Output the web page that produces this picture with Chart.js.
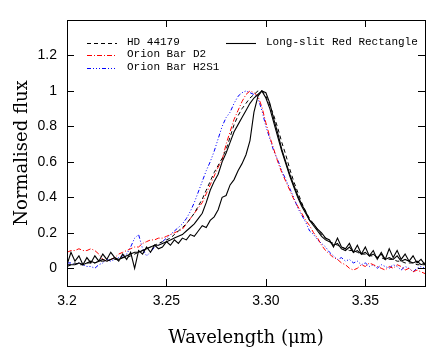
<!DOCTYPE html>
<html>
<head>
<meta charset="utf-8">
<script src="https://cdn.jsdelivr.net/npm/chart.js@4.4.0/dist/chart.umd.min.js"></script>
<style>
  html, body { margin: 0; padding: 0; background: #fff; }
  #wrap { width: 447px; height: 358px; position: relative; }
</style>
</head>
<body>
<div id="wrap"><canvas id="chart"></canvas></div>
<script>
// Longueurs d'onde (µm)
const wavelength = [
  3.200, 3.202, 3.204, 3.206, 3.208, 3.210, 3.212, 3.214, 3.216, 3.218,
  3.220, 3.222, 3.224, 3.226, 3.228, 3.230, 3.232, 3.234, 3.236, 3.238,
  3.240, 3.242, 3.244, 3.246, 3.248, 3.250, 3.252, 3.254, 3.256, 3.258,
  3.260, 3.262, 3.264, 3.266, 3.268, 3.270, 3.272, 3.274, 3.276, 3.278,
  3.280, 3.282, 3.284, 3.286, 3.288, 3.290, 3.292, 3.294, 3.296, 3.298,
  3.300, 3.302, 3.304, 3.306, 3.308, 3.310, 3.312, 3.314, 3.316, 3.318,
  3.320, 3.322, 3.324, 3.326, 3.328, 3.330, 3.332, 3.334, 3.336, 3.338,
  3.340, 3.342, 3.344, 3.346, 3.348, 3.350, 3.352, 3.354, 3.356, 3.358,
  3.360, 3.362, 3.364, 3.366, 3.368, 3.370, 3.372, 3.374, 3.376, 3.378,
  3.380
];

// HD 44179 (tirets noirs)
const hd44179 = [
  0.02, 0.02, 0.03, 0.02, 0.02, 0.03, 0.03, 0.03, 0.04, 0.04,
  0.04, 0.05, 0.05, 0.05, 0.06, 0.06, 0.07, 0.08, 0.09, 0.10,
  0.11, 0.12, 0.13, 0.14, 0.15, 0.16, 0.17, 0.19, 0.21, 0.23,
  0.25, 0.28, 0.31, 0.35, 0.39, 0.44, 0.49, 0.54, 0.58, 0.62,
  0.67, 0.74, 0.81, 0.86, 0.90, 0.93, 0.96, 0.98, 1.00, 1.00,
  0.97, 0.92, 0.86, 0.79, 0.71, 0.64, 0.56, 0.49, 0.43, 0.37,
  0.32, 0.28, 0.25, 0.22, 0.19, 0.17, 0.15, 0.14, 0.13, 0.12,
  0.11, 0.10, 0.10, 0.09, 0.08, 0.08, 0.07, 0.07, 0.06, 0.06,
  0.05, 0.05, 0.05, 0.04, 0.04, 0.03, 0.03, 0.03, 0.02, 0.02,
  0.02
];

// Orion Bar D2 (rouge)
const orionD2 = [
  0.09, 0.10, 0.10, 0.11, 0.10, 0.10, 0.11, 0.10, 0.08, 0.05,
  0.04, 0.05, 0.06, 0.08, 0.09, 0.10, 0.11, 0.12, 0.12, 0.14,
  0.15, 0.16, 0.16, 0.17, 0.17, 0.18, 0.19, 0.20, 0.21, 0.22,
  0.25, 0.28, 0.31, 0.34, 0.37, 0.42, 0.47, 0.52, 0.57, 0.61,
  0.70, 0.77, 0.84, 0.89, 0.94, 0.98, 1.00, 0.99, 0.97, 0.91,
  0.82, 0.74, 0.67, 0.60, 0.54, 0.49, 0.44, 0.39, 0.35, 0.31,
  0.27, 0.24, 0.20, 0.17, 0.13, 0.10, 0.08, 0.06, 0.05, 0.03,
  0.02, 0.00, -0.01, 0.00, 0.02, 0.01, 0.03, 0.02, 0.01, 0.00,
  -0.01, 0.01, 0.00, 0.02, 0.01, -0.01, 0.00, -0.02, -0.01, -0.02,
  -0.03
];

// Orion Bar H2S1 (bleu)
const orionH2S1 = [
  0.03, 0.03, 0.02, 0.03, 0.02, 0.01, 0.01, 0.00, 0.02, 0.03,
  0.05, 0.04, 0.05, 0.06, 0.07, 0.08, 0.12, 0.17, 0.19, 0.11,
  0.07, 0.09, 0.12, 0.13, 0.15, 0.17, 0.19, 0.21, 0.23, 0.25,
  0.28, 0.32, 0.37, 0.43, 0.49, 0.55, 0.60, 0.66, 0.73, 0.80,
  0.85, 0.88, 0.93, 0.97, 0.99, 1.00, 0.99, 0.98, 0.96, 0.89,
  0.80, 0.73, 0.66, 0.61, 0.55, 0.50, 0.45, 0.40, 0.34, 0.30,
  0.26, 0.21, 0.19, 0.16, 0.14, 0.12, 0.09, 0.07, 0.05, 0.06,
  0.04, 0.05, 0.03, 0.04, 0.02, 0.03, 0.01, 0.02, 0.00, 0.02,
  0.01, 0.00, 0.02, 0.01, -0.01, 0.01, 0.00, -0.02, 0.00, 0.01,
  0.00
];

// Red Rectangle, fente longue : deux positions (noir plein)
const longSlitA = [
  0.01, 0.02, 0.02, 0.03, 0.02, 0.03, 0.04, 0.03, 0.04, 0.05,
  0.04, 0.05, 0.06, 0.05, 0.06, 0.07, 0.08, 0.09, 0.09, 0.10,
  0.11, 0.12, 0.13, 0.13, 0.14, 0.15, 0.16, 0.17, 0.18, 0.19,
  0.21, 0.23, 0.25, 0.28, 0.31, 0.37, 0.44, 0.49, 0.53, 0.60,
  0.65, 0.71, 0.77, 0.81, 0.85, 0.89, 0.93, 0.96, 0.98, 1.00,
  0.96, 0.90, 0.82, 0.74, 0.66, 0.59, 0.52, 0.46, 0.40, 0.35,
  0.31, 0.27, 0.24, 0.21, 0.18, 0.16, 0.15, 0.13, 0.14, 0.11,
  0.10, 0.12, 0.09, 0.10, 0.08, 0.09, 0.07, 0.08, 0.06, 0.08,
  0.05, 0.06, 0.05, 0.07, 0.04, 0.05, 0.04, 0.03, 0.04, 0.02,
  0.03
];

const longSlitB = [
  0.02, 0.09, 0.04, 0.07, 0.02, 0.06, 0.03, 0.07, 0.04, 0.08,
  0.05, 0.09, 0.06, 0.04, 0.08, 0.05, 0.09, 0.00, 0.10, 0.08,
  0.12, 0.09, 0.13, 0.11, 0.12, 0.15, 0.13, 0.16, 0.14, 0.17,
  0.16, 0.19, 0.18, 0.21, 0.24, 0.23, 0.27, 0.29, 0.33, 0.40,
  0.41, 0.47, 0.50, 0.55, 0.59, 0.64, 0.72, 0.88, 0.97, 1.00,
  0.99, 0.93, 0.84, 0.76, 0.67, 0.60, 0.53, 0.47, 0.41, 0.36,
  0.32, 0.27, 0.25, 0.22, 0.20, 0.17, 0.16, 0.12, 0.17, 0.12,
  0.11, 0.14, 0.09, 0.13, 0.08, 0.12, 0.07, 0.10, 0.05, 0.09,
  0.05, 0.11, 0.06, 0.10, 0.05, 0.08, 0.04, 0.07, 0.03, 0.05,
  0.02
];

// Graduations
const xTickValues = [3.2, 3.25, 3.3, 3.35];
const xTickLabels = ['3.2', '3.25', '3.30', '3.35'];
const yTickValues = [0, 0.2, 0.4, 0.6, 0.8, 1, 1.2];
const yTickLabels = ['0', '0.2', '0.4', '0.6', '0.8', '1', '1.2'];

const toPoints = arr => arr.map((v, i) => ({ x: wavelength[i], y: v }));

const serie = (label, data, color, dash, width, legend) => ({
  label, data: toPoints(data), borderColor: color, borderDash: dash,
  borderWidth: width, pointRadius: 0, tension: 0, fill: false, legend
});

const datasets = [
  serie('Long-slit Red Rectangle', longSlitA, '#000', [], 1.1, true),
  serie('Long-slit Red Rectangle', longSlitB, '#000', [], 1.1, false),
  serie('HD 44179', hd44179, '#000', [4, 3], 1, true),
  serie('Orion Bar D2', orionD2, '#ff0000', [5, 2, 1, 2], 1, true),
  serie('Orion Bar H2S1', orionH2S1, '#0000ff', [4, 2, 1, 2, 1, 2, 1, 2], 1, true)
];

// Cadre, graduations internes, titres et légende
const framePlugin = {
  id: 'frame',
  afterDraw(chart) {
    const { ctx, chartArea: a, scales: { x, y } } = chart;
    ctx.save();
    ctx.strokeStyle = '#000';
    ctx.lineWidth = 1;
    ctx.setLineDash([]);
    ctx.strokeRect(a.left + 0.5, a.top + 0.5, a.right - a.left, a.bottom - a.top);

    const tl = 7;
    ctx.beginPath();
    xTickValues.forEach(v => {
      const px = Math.round(x.getPixelForValue(v)) + 0.5;
      ctx.moveTo(px, a.bottom); ctx.lineTo(px, a.bottom - tl);
      ctx.moveTo(px, a.top); ctx.lineTo(px, a.top + tl);
    });
    yTickValues.forEach(v => {
      const py = Math.round(y.getPixelForValue(v)) + 0.5;
      ctx.moveTo(a.left, py); ctx.lineTo(a.left + tl, py);
      ctx.moveTo(a.right, py); ctx.lineTo(a.right - tl, py);
    });
    ctx.stroke();

    // Titres des axes
    ctx.fillStyle = '#000';
    ctx.font = '18px "DejaVu Serif"';
    ctx.textAlign = 'center';
    ctx.textBaseline = 'middle';
    ctx.fillText('Wavelength (\u03bcm)', (a.left + a.right) / 2, 338);
    ctx.save();
    ctx.translate(22, (a.top + a.bottom) / 2);
    ctx.rotate(-Math.PI / 2);
    ctx.fillText('Normalised flux', 0, 0);
    ctx.restore();

    // Légende
    const entries = chart.data.datasets.filter(d => d.legend);
    const spots = {
      'HD 44179': [87, 43],
      'Orion Bar D2': [87, 55],
      'Orion Bar H2S1': [87, 68],
      'Long-slit Red Rectangle': [226, 43]
    };
    ctx.font = '11px "Liberation Mono"';
    ctx.textAlign = 'left';
    entries.forEach(d => {
      const [lx, ly] = spots[d.label];
      ctx.beginPath();
      ctx.strokeStyle = d.borderColor;
      ctx.lineWidth = d.borderWidth;
      ctx.setLineDash(d.borderDash);
      ctx.moveTo(lx, ly + 0.5);
      ctx.lineTo(lx + 30, ly + 0.5);
      ctx.stroke();
      ctx.fillText(d.label, lx + 40, ly - 1);
    });
    ctx.restore();
  }
};

new Chart(document.getElementById('chart'), {
  type: 'line',
  data: { datasets },
  plugins: [framePlugin],
  options: {
    responsive: true,
    maintainAspectRatio: false,
    animation: false,
    layout: { padding: { left: 0, right: 22, top: 20, bottom: 0 } },
    plugins: { legend: { display: false }, tooltip: { enabled: false } },
    scales: {
      x: {
        type: 'linear', min: 3.2, max: 3.38,
        afterFit: s => { s.height = 72; },
        afterBuildTicks: s => { s.ticks = xTickValues.map(v => ({ value: v })); },
        grid: { display: false, drawTicks: false },
        border: { display: false },
        ticks: {
          padding: 7, color: '#000', maxRotation: 0, autoSkip: false,
          font: { family: '"Liberation Sans"', size: 14 },
          callback: v => xTickLabels[xTickValues.findIndex(t => Math.abs(t - v) < 1e-6)]
        }
      },
      y: {
        type: 'linear', min: -0.1, max: 1.4,
        afterFit: s => { s.width = 67; },
        afterBuildTicks: s => { s.ticks = yTickValues.map(v => ({ value: v })); },
        grid: { display: false, drawTicks: false },
        border: { display: false },
        ticks: {
          padding: 10, color: '#000', autoSkip: false,
          font: { family: '"Liberation Sans"', size: 14 },
          callback: v => yTickLabels[yTickValues.findIndex(t => Math.abs(t - v) < 1e-6)]
        }
      }
    }
  }
});
</script>
</body>
</html>
